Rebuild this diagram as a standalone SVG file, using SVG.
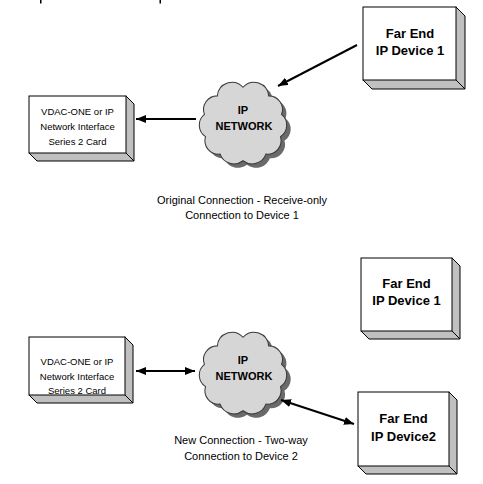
<svg xmlns="http://www.w3.org/2000/svg" width="483" height="484" viewBox="0 0 483 484">
<style>
.front{fill:#fff;stroke:#000;stroke-width:1}
.side{fill:#c0c0c0;stroke:#000;stroke-width:1;stroke-linejoin:miter}
.edge{stroke:#000;stroke-width:1;fill:none}
.cloud{fill:#d6d6d6;stroke:#3a3a3a;stroke-width:1}
.shadow{fill:#6a6a6a;stroke:none}
.sm{font-family:"Liberation Sans",Arial,sans-serif;font-size:9.5px;fill:#000;text-anchor:middle}
.cap{font-family:"Liberation Sans",Arial,sans-serif;font-size:11px;fill:#000;text-anchor:middle}
.bold{font-family:"Liberation Sans",Arial,sans-serif;font-size:13px;font-weight:bold;fill:#000;text-anchor:middle}
.cbold{font-family:"Liberation Sans",Arial,sans-serif;font-size:11px;font-weight:bold;fill:#000;text-anchor:middle}
.conn{stroke:#000;stroke-width:2;fill:none}
</style>
<defs>
<marker id="ah" markerUnits="userSpaceOnUse" markerWidth="12" markerHeight="10" refX="10" refY="4" orient="auto-start-reverse">
<path d="M0,0 L10,4 L0,8 z" fill="#000"/>
</marker>
<path id="cloudShape" d="M0,-35 A14,14 0 0 1 24.4,-26.8 A13,13 0 0 1 36.7,-9.1 A13,13 0 0 1 35.7,12 A13,13 0 0 1 21.8,28.7 A14,14 0 0 1 0,35 A14,14 0 0 1 -21.8,28.7 A13,13 0 0 1 -35.7,12 A13,13 0 0 1 -36.7,-9.1 A13,13 0 0 1 -24.4,-26.8 A14,14 0 0 1 0,-35 z"/>
</defs>

<g id="clipped-marks">
<rect x="40" y="0" width="1.5" height="3.5" fill="#000"/>
<rect x="159.5" y="0" width="1.5" height="3.5" fill="#000"/>
</g>

<g id="vdac1">
<path class="side" d="M126,96 L134,104 L134,161 L37,161 L29,153 Z"/>
<line class="edge" x1="126" y1="153" x2="134" y2="161"/>
<rect class="front" x="29" y="96" width="97" height="57"/>
<text class="sm" x="77.5" y="115">VDAC-ONE or IP</text>
<text class="sm" x="77.5" y="130">Network Interface</text>
<text class="sm" x="77.5" y="145">Series 2 Card</text>
</g>

<g id="cloud1">
<use href="#cloudShape" class="shadow" transform="translate(247,128) scale(1.05)"/>
<use href="#cloudShape" class="cloud" transform="translate(243,124) scale(1.05)"/>
<text class="cbold" x="243" y="114">IP</text>
<text class="cbold" x="244" y="130">NETWORK</text>
</g>

<g id="farend1-top">
<path class="side" d="M456,7 L465,16 L465,89 L372,89 L363,80 Z"/>
<line class="edge" x1="456" y1="80" x2="465" y2="89"/>
<rect class="front" x="363" y="7" width="93" height="73"/>
<text class="bold" x="410" y="38">Far End</text>
<text class="bold" x="410" y="55">IP Device 1</text>
</g>

<g id="caption1">
<text class="cap" x="242" y="204">Original Connection - Receive-only</text>
<text class="cap" x="242" y="219">Connection to Device 1</text>
</g>

<g id="farend1-bottom">
<path class="side" d="M452,258 L460,266 L460,339 L369,339 L361,331 Z"/>
<line class="edge" x1="452" y1="331" x2="460" y2="339"/>
<rect class="front" x="361" y="258" width="91" height="73"/>
<text class="bold" x="406.5" y="288">Far End</text>
<text class="bold" x="406.5" y="305">IP Device 1</text>
</g>

<g id="vdac2">
<path class="side" d="M125,337 L133,345 L133,403 L37,403 L29,395 Z"/>
<line class="edge" x1="125" y1="395" x2="133" y2="403"/>
<rect class="front" x="29" y="337" width="96" height="58"/>
<text class="sm" x="77" y="365">VDAC-ONE or IP</text>
<text class="sm" x="77" y="380">Network Interface</text>
<text class="sm" x="77" y="394">Series 2 Card</text>
</g>

<g id="cloud2">
<use href="#cloudShape" class="shadow" transform="translate(247,378) scale(1.05)"/>
<use href="#cloudShape" class="cloud" transform="translate(243,374) scale(1.05)"/>
<text class="cbold" x="243" y="364">IP</text>
<text class="cbold" x="244" y="380">NETWORK</text>
</g>

<g id="farend2">
<path class="side" d="M449,392 L457,400 L457,474 L366,474 L358,466 Z"/>
<line class="edge" x1="449" y1="466" x2="457" y2="474"/>
<rect class="front" x="358" y="392" width="91" height="74"/>
<text class="bold" x="403.5" y="423">Far End</text>
<text class="bold" x="403.5" y="441">IP Device2</text>
</g>

<g id="caption2">
<text class="cap" x="241" y="444">New Connection - Two-way</text>
<text class="cap" x="241" y="460">Connection to Device 2</text>
</g>

<g id="connectors">
<line class="conn" x1="196" y1="119" x2="136" y2="119" marker-end="url(#ah)"/>
<line class="conn" x1="357" y1="45" x2="278" y2="86" marker-end="url(#ah)"/>
<line class="conn" x1="136" y1="371" x2="195" y2="371" marker-start="url(#ah)" marker-end="url(#ah)"/>
<line class="conn" x1="281" y1="400" x2="354" y2="424" marker-start="url(#ah)" marker-end="url(#ah)"/>
</g>
</svg>
